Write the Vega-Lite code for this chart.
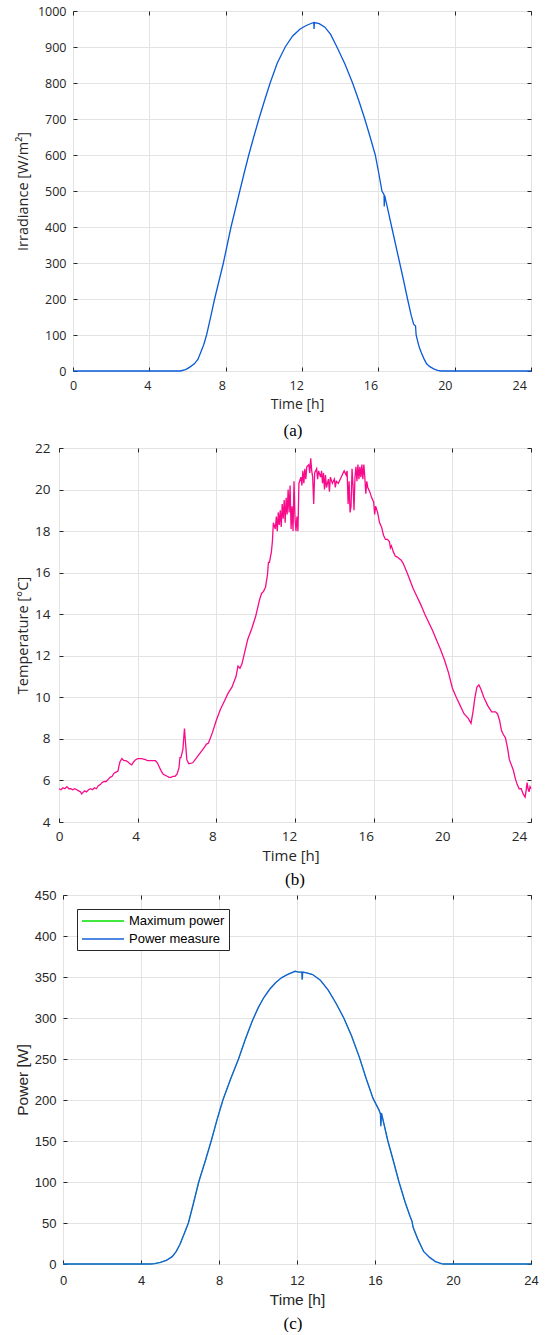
{
  "$schema": "https://vega.github.io/schema/vega-lite/v6.json",
  "background": "white",
  "padding": {"left": 14, "top": 4, "right": 5, "bottom": 0},
  "spacing": 0,
  "resolve": {"scale": {"color": "independent"}, "legend": {"color": "independent"}},
  "config": {
    "view": {"stroke": "#262626", "strokeWidth": 1},
    "axis": {"gridColor": "#e3e3e3", "gridWidth": 1, "domain": false, "tickColor": "#262626", "tickSize": -4, "labelColor": "#262626", "titleColor": "#262626", "titleFontWeight": "normal", "labelOverlap": false, "labelFlush": false}
  },
  "vconcat": [
    {"spacing": 0, "hconcat": [
    {"width": 1, "height": 1, "view": {"stroke": null}, "data": {"values": [{"s": 0}]}, "mark": {"type": "point", "opacity": 0, "size": 0, "strokeWidth": 0}, "encoding": {}},
    {
      "width": 458, "height": 360,
      "title": {"text": "(a)", "orient": "bottom", "font": "Liberation Serif", "fontSize": 17, "fontWeight": "normal", "color": "black", "frame": "group", "anchor": "middle", "dx": -9, "offset": 12},
      "data": {"values": [
        {"t":0,"v":0},{"t":1,"v":0},{"t":2,"v":0},{"t":3,"v":0},{"t":4,"v":0},{"t":5,"v":0},{"t":5.62,"v":0},{"t":5.9,"v":4},{"t":6.1,"v":10},{"t":6.36,"v":20},{"t":6.55,"v":33},{"t":6.68,"v":50},{"t":6.85,"v":73},{"t":7.0,"v":100},{"t":7.2,"v":147},{"t":7.42,"v":200},{"t":7.65,"v":250},{"t":7.88,"v":300},{"t":8.08,"v":350},{"t":8.28,"v":400},{"t":8.51,"v":450},{"t":8.74,"v":500},{"t":8.97,"v":550},{"t":9.21,"v":600},{"t":9.47,"v":650},{"t":9.74,"v":700},{"t":10.03,"v":750},{"t":10.33,"v":800},{"t":10.7,"v":855},{"t":11.12,"v":900},{"t":11.5,"v":930},{"t":11.9,"v":950},{"t":12.2,"v":959},{"t":12.5,"v":966},{"t":12.62,"v":968},{"t":12.63,"v":950},{"t":12.65,"v":968},{"t":12.9,"v":965},{"t":13.2,"v":955},{"t":13.5,"v":935},{"t":13.83,"v":900},{"t":14.25,"v":853},{"t":14.65,"v":800},{"t":14.97,"v":752},{"t":15.29,"v":700},{"t":15.57,"v":650},{"t":15.84,"v":600},{"t":16.02,"v":550},{"t":16.19,"v":500},{"t":16.3,"v":490},{"t":16.31,"v":457},{"t":16.33,"v":488},{"t":16.45,"v":460},{"t":16.7,"v":400},{"t":16.91,"v":350},{"t":17.12,"v":300},{"t":17.33,"v":250},{"t":17.53,"v":200},{"t":17.72,"v":155},{"t":17.85,"v":130},{"t":17.95,"v":125},{"t":17.98,"v":100},{"t":18.05,"v":85},{"t":18.15,"v":65},{"t":18.26,"v":50},{"t":18.4,"v":33},{"t":18.53,"v":20},{"t":18.7,"v":12},{"t":18.9,"v":6},{"t":19.1,"v":2},{"t":19.3,"v":0},{"t":20,"v":0},{"t":22,"v":0},{"t":24,"v":0}
      ]},
      "layer": [
        {
          "mark": {"type": "line", "color": "#0a5ad8", "strokeWidth": 1.3},
          "encoding": {
            "x": {"field": "t", "type": "quantitative", "scale": {"domain": [0, 24], "nice": false, "zero": false},
                  "axis": {"values": [0,4,8,12,16,20,24], "labelFont": "Open Sans", "labelFontSize": 12.5, "labelPadding": 12.6, "title": "Time [h]", "titleFont": "Open Sans", "titleFontSize": 14, "titlePadding": 5, "titleX": 224,
                           "labelOffset": {"expr": "-datum.value*0.49"}}},
            "y": {"field": "v", "type": "quantitative", "scale": {"domain": [0, 1000], "nice": false},
                  "axis": {"values": [0,100,200,300,400,500,600,700,800,900,1000], "format": "d", "labelFont": "Open Sans", "labelFontSize": 12.5, "labelPadding": 11, "minExtent": 34, "maxExtent": 34, "title": "Irradiance [W/m²]", "titleFont": "Open Sans", "titleFontSize": 14.5, "titlePadding": 8.5}}
          }
        },
        {
          "mark": {"type": "line", "opacity": 0},
          "encoding": {
            "x": {"field": "t", "type": "quantitative", "axis": {"orient": "top", "values": [0,4,8,12,16,20,24], "labels": false, "grid": false, "title": null, "minExtent": 0, "maxExtent": 0}},
            "y": {"field": "v", "type": "quantitative", "axis": {"orient": "right", "values": [0,100,200,300,400,500,600,700,800,900,1000], "labels": false, "grid": false, "title": null, "minExtent": 0, "maxExtent": 0}}
          }
        }
      ],
      "resolve": {"axis": {"x": "independent", "y": "independent"}}
    }]},
    {"spacing": 0, "hconcat": [
    {"width": 1, "height": 1, "view": {"stroke": null}, "data": {"values": [{"s": 0}]}, "mark": {"type": "point", "opacity": 0, "size": 0, "strokeWidth": 0}, "encoding": {}},
    {
      "width": 472, "height": 374,
      "title": {"text": "(b)", "orient": "bottom", "font": "Liberation Serif", "fontSize": 17, "fontWeight": "normal", "color": "black", "frame": "group", "anchor": "middle", "dx": 0, "offset": 8},
      "data": {"values": [
        {"t":0.0,"v":5.6},{"t":0.1,"v":5.55},{"t":0.2,"v":5.65},{"t":0.3,"v":5.6},{"t":0.4,"v":5.7},{"t":0.5,"v":5.6},{"t":0.6,"v":5.6},{"t":0.7,"v":5.55},{"t":0.8,"v":5.6},{"t":0.9,"v":5.55},{"t":1.0,"v":5.5},{"t":1.1,"v":5.45},{"t":1.15,"v":5.35},{"t":1.2,"v":5.4},{"t":1.3,"v":5.5},{"t":1.4,"v":5.45},{"t":1.5,"v":5.55},{"t":1.6,"v":5.6},{"t":1.7,"v":5.55},{"t":1.8,"v":5.65},{"t":1.9,"v":5.6},{"t":2.0,"v":5.75},{"t":2.1,"v":5.8},{"t":2.2,"v":5.9},{"t":2.3,"v":5.95},{"t":2.4,"v":5.95},{"t":2.5,"v":6.05},{"t":2.6,"v":6.15},{"t":2.7,"v":6.2},{"t":2.8,"v":6.35},{"t":2.9,"v":6.4},{"t":3.0,"v":6.45},{"t":3.05,"v":6.7},{"t":3.1,"v":6.9},{"t":3.2,"v":7.05},{"t":3.3,"v":6.95},{"t":3.4,"v":6.95},{"t":3.5,"v":6.9},{"t":3.6,"v":6.8},{"t":3.7,"v":6.75},{"t":3.8,"v":6.9},{"t":3.9,"v":7.0},{"t":4.0,"v":7.05},{"t":4.2,"v":7.05},{"t":4.4,"v":7.0},{"t":4.5,"v":6.95},{"t":4.7,"v":6.95},{"t":4.9,"v":6.95},{"t":5.0,"v":6.85},{"t":5.1,"v":6.65},{"t":5.2,"v":6.45},{"t":5.3,"v":6.3},{"t":5.5,"v":6.2},{"t":5.6,"v":6.15},{"t":5.7,"v":6.15},{"t":5.8,"v":6.2},{"t":5.9,"v":6.2},{"t":6.0,"v":6.3},{"t":6.1,"v":6.6},{"t":6.15,"v":7.1},{"t":6.2,"v":7.1},{"t":6.3,"v":7.5},{"t":6.38,"v":8.5},{"t":6.45,"v":7.6},{"t":6.5,"v":7.0},{"t":6.6,"v":6.8},{"t":6.8,"v":6.85},{"t":7.0,"v":7.1},{"t":7.2,"v":7.35},{"t":7.4,"v":7.6},{"t":7.5,"v":7.75},{"t":7.6,"v":7.8},{"t":7.8,"v":8.3},{"t":8.0,"v":8.9},{"t":8.2,"v":9.4},{"t":8.4,"v":9.8},{"t":8.6,"v":10.2},{"t":8.8,"v":10.5},{"t":9.0,"v":11.0},{"t":9.1,"v":11.5},{"t":9.2,"v":11.4},{"t":9.3,"v":11.6},{"t":9.5,"v":12.4},{"t":9.6,"v":12.8},{"t":9.8,"v":13.3},{"t":10.0,"v":13.9},{"t":10.2,"v":14.7},{"t":10.3,"v":15.0},{"t":10.4,"v":15.1},{"t":10.5,"v":15.3},{"t":10.6,"v":15.9},{"t":10.65,"v":16.5},{"t":10.7,"v":16.5},{"t":10.8,"v":17.0},{"t":10.85,"v":17.5},{"t":10.9,"v":18.4},{"t":11.0,"v":18.1},{"t":11.05,"v":18.7},{"t":11.1,"v":18.0},{"t":11.15,"v":18.9},{"t":11.2,"v":18.3},{"t":11.25,"v":19.0},{"t":11.3,"v":18.2},{"t":11.35,"v":19.3},{"t":11.4,"v":18.6},{"t":11.45,"v":19.5},{"t":11.5,"v":18.4},{"t":11.55,"v":19.6},{"t":11.6,"v":18.8},{"t":11.65,"v":20.0},{"t":11.7,"v":18.9},{"t":11.75,"v":20.2},{"t":11.8,"v":18.1},{"t":11.85,"v":19.2},{"t":11.9,"v":18.0},{"t":11.95,"v":20.4},{"t":12.0,"v":18.6},{"t":12.05,"v":18.0},{"t":12.1,"v":18.7},{"t":12.15,"v":18.0},{"t":12.2,"v":20.3},{"t":12.3,"v":20.6},{"t":12.35,"v":20.2},{"t":12.4,"v":20.9},{"t":12.45,"v":20.3},{"t":12.5,"v":21.0},{"t":12.55,"v":20.5},{"t":12.6,"v":21.1},{"t":12.7,"v":21.2},{"t":12.75,"v":20.8},{"t":12.8,"v":21.5},{"t":12.85,"v":20.9},{"t":12.9,"v":20.6},{"t":12.95,"v":19.3},{"t":13.0,"v":20.8},{"t":13.1,"v":21.0},{"t":13.15,"v":20.5},{"t":13.2,"v":20.9},{"t":13.3,"v":20.6},{"t":13.35,"v":20.9},{"t":13.4,"v":20.3},{"t":13.45,"v":20.8},{"t":13.5,"v":20.0},{"t":13.55,"v":20.7},{"t":13.6,"v":20.1},{"t":13.7,"v":20.5},{"t":13.75,"v":19.9},{"t":13.8,"v":20.6},{"t":13.9,"v":20.3},{"t":14.0,"v":20.5},{"t":14.05,"v":20.1},{"t":14.1,"v":20.4},{"t":14.2,"v":20.3},{"t":14.3,"v":20.5},{"t":14.4,"v":20.7},{"t":14.5,"v":20.9},{"t":14.6,"v":20.7},{"t":14.65,"v":20.9},{"t":14.7,"v":19.3},{"t":14.75,"v":20.4},{"t":14.8,"v":18.9},{"t":14.85,"v":19.2},{"t":14.9,"v":21.0},{"t":14.95,"v":20.2},{"t":15.0,"v":19.0},{"t":15.05,"v":20.6},{"t":15.1,"v":21.1},{"t":15.15,"v":20.4},{"t":15.2,"v":21.2},{"t":15.25,"v":20.5},{"t":15.3,"v":21.1},{"t":15.35,"v":20.6},{"t":15.4,"v":21.2},{"t":15.45,"v":20.5},{"t":15.5,"v":21.2},{"t":15.55,"v":20.6},{"t":15.6,"v":19.8},{"t":15.65,"v":20.4},{"t":15.7,"v":20.1},{"t":15.8,"v":19.9},{"t":15.9,"v":19.6},{"t":16.0,"v":19.4},{"t":16.05,"v":18.8},{"t":16.1,"v":19.2},{"t":16.2,"v":18.9},{"t":16.3,"v":18.4},{"t":16.4,"v":18.2},{"t":16.5,"v":17.8},{"t":16.6,"v":17.6},{"t":16.7,"v":17.6},{"t":16.8,"v":17.5},{"t":16.85,"v":17.2},{"t":16.9,"v":17.3},{"t":17.0,"v":17.0},{"t":17.1,"v":16.8},{"t":17.2,"v":16.75},{"t":17.4,"v":16.6},{"t":17.5,"v":16.45},{"t":17.7,"v":16.0},{"t":17.9,"v":15.5},{"t":18.0,"v":15.25},{"t":18.2,"v":14.85},{"t":18.4,"v":14.45},{"t":18.6,"v":14.0},{"t":18.8,"v":13.6},{"t":19.0,"v":13.2},{"t":19.2,"v":12.75},{"t":19.4,"v":12.3},{"t":19.6,"v":11.8},{"t":19.8,"v":11.2},{"t":20.0,"v":10.45},{"t":20.2,"v":10.0},{"t":20.4,"v":9.6},{"t":20.6,"v":9.2},{"t":20.8,"v":9.0},{"t":20.95,"v":8.75},{"t":21.05,"v":9.3},{"t":21.15,"v":10.0},{"t":21.25,"v":10.5},{"t":21.35,"v":10.6},{"t":21.45,"v":10.4},{"t":21.6,"v":10.0},{"t":21.8,"v":9.6},{"t":22.0,"v":9.3},{"t":22.2,"v":9.3},{"t":22.3,"v":9.2},{"t":22.4,"v":8.9},{"t":22.5,"v":8.4},{"t":22.6,"v":8.2},{"t":22.7,"v":8.05},{"t":22.8,"v":7.6},{"t":22.9,"v":7.0},{"t":23.0,"v":6.75},{"t":23.1,"v":6.5},{"t":23.2,"v":6.1},{"t":23.3,"v":5.8},{"t":23.4,"v":5.6},{"t":23.5,"v":5.6},{"t":23.6,"v":5.35},{"t":23.7,"v":5.2},{"t":23.75,"v":5.5},{"t":23.8,"v":5.9},{"t":23.85,"v":5.6},{"t":23.9,"v":5.45},{"t":23.95,"v":5.7},{"t":24.0,"v":5.6}
      ]},
      "layer": [
        {
          "mark": {"type": "line", "color": "#f80a8a", "strokeWidth": 1.3},
          "encoding": {
            "x": {"field": "t", "type": "quantitative", "scale": {"domain": [0, 24], "nice": false, "zero": false},
                  "axis": {"values": [0,4,8,12,16,20,24], "labelFont": "Open Sans", "labelFontSize": 13.5, "labelPadding": 11, "title": "Time [h]", "titleFont": "Open Sans", "titleFontSize": 15, "titlePadding": 6, "titleX": 231.6,
                           "labelOffset": {"expr": "-datum.value*0.5"}}},
            "y": {"field": "v", "type": "quantitative", "scale": {"domain": [4, 22], "nice": false, "zero": false},
                  "axis": {"values": [4,6,8,10,12,14,16,18,20,22], "labelFont": "Open Sans", "labelFontSize": 13.5, "labelPadding": 13, "minExtent": 25, "maxExtent": 25, "title": "Temperature [°C]", "titleFont": "Open Sans", "titleFontSize": 14.5, "titlePadding": 3.5}}
          }
        },
        {
          "mark": {"type": "line", "opacity": 0},
          "encoding": {
            "x": {"field": "t", "type": "quantitative", "axis": {"orient": "top", "values": [0,4,8,12,16,20,24], "labels": false, "grid": false, "title": null, "minExtent": 0, "maxExtent": 0}},
            "y": {"field": "v", "type": "quantitative", "axis": {"orient": "right", "values": [4,6,8,10,12,14,16,18,20,22], "labels": false, "grid": false, "title": null, "minExtent": 0, "maxExtent": 0}}
          }
        }
      ],
      "resolve": {"axis": {"x": "independent", "y": "independent"}}
    }]},
    {"spacing": 0, "hconcat": [
    {"width": 1, "height": 1, "view": {"stroke": null}, "data": {"values": [{"s": 0}]}, "mark": {"type": "point", "opacity": 0, "size": 0, "strokeWidth": 0}, "encoding": {}},
    {
      "width": 468, "height": 369,
      "title": {"text": "(c)", "orient": "bottom", "font": "Liberation Serif", "fontSize": 17, "fontWeight": "normal", "color": "black", "frame": "group", "anchor": "middle", "dx": -4, "offset": 8},
      "data": {"values": [
        {"t":0,"maxp":0,"meas":0},{"t":1,"maxp":0,"meas":0},{"t":2,"maxp":0,"meas":0},{"t":3,"maxp":0,"meas":0},{"t":4,"maxp":0,"meas":0},{"t":4.5,"maxp":0,"meas":0},{"t":4.7,"maxp":0.5,"meas":0.5},{"t":5.0,"maxp":2,"meas":2},{"t":5.3,"maxp":4.5,"meas":4.5},{"t":5.6,"maxp":9,"meas":9},{"t":5.8,"maxp":15,"meas":15},{"t":6.0,"maxp":24,"meas":24},{"t":6.2,"maxp":36,"meas":36},{"t":6.43,"maxp":50,"meas":50},{"t":6.7,"maxp":75,"meas":75},{"t":6.96,"maxp":100,"meas":100},{"t":7.3,"maxp":126,"meas":126},{"t":7.6,"maxp":150,"meas":150},{"t":7.9,"maxp":176,"meas":176},{"t":8.2,"maxp":200,"meas":200},{"t":8.6,"maxp":226,"meas":226},{"t":9.0,"maxp":250,"meas":250},{"t":9.35,"maxp":274,"meas":274},{"t":9.7,"maxp":296,"meas":296},{"t":10.0,"maxp":312,"meas":312},{"t":10.3,"maxp":325,"meas":325},{"t":10.6,"maxp":335,"meas":335},{"t":10.9,"maxp":343,"meas":343},{"t":11.2,"maxp":349,"meas":349},{"t":11.5,"maxp":353,"meas":353},{"t":11.9,"maxp":357,"meas":357},{"t":12.1,"maxp":356,"meas":356},{"t":12.25,"maxp":356,"meas":356},{"t":12.27,"maxp":347,"meas":347},{"t":12.29,"maxp":356,"meas":356},{"t":12.5,"maxp":355,"meas":355},{"t":12.8,"maxp":353,"meas":353},{"t":13.2,"maxp":346,"meas":346},{"t":13.6,"maxp":334,"meas":334},{"t":14.0,"maxp":318,"meas":318},{"t":14.4,"maxp":300,"meas":300},{"t":14.8,"maxp":278,"meas":278},{"t":15.2,"maxp":252,"meas":252},{"t":15.55,"maxp":226,"meas":226},{"t":15.9,"maxp":202,"meas":202},{"t":16.2,"maxp":188,"meas":188},{"t":16.28,"maxp":183,"meas":183},{"t":16.3,"maxp":172,"meas":168},{"t":16.33,"maxp":184,"meas":184},{"t":16.66,"maxp":150,"meas":150},{"t":16.95,"maxp":125,"meas":125},{"t":17.23,"maxp":100,"meas":100},{"t":17.55,"maxp":75,"meas":75},{"t":17.8,"maxp":58,"meas":58},{"t":17.9,"maxp":52,"meas":52},{"t":17.95,"maxp":45,"meas":45},{"t":18.2,"maxp":30,"meas":30},{"t":18.5,"maxp":15,"meas":15},{"t":18.8,"maxp":8,"meas":8},{"t":19.1,"maxp":3,"meas":3},{"t":19.4,"maxp":0.5,"meas":0.5},{"t":19.5,"maxp":0,"meas":0},{"t":20,"maxp":0,"meas":0},{"t":22,"maxp":0,"meas":0},{"t":24,"maxp":0,"meas":0}
      ]},
      "layer": [
        {
          "mark": {"type": "line", "strokeWidth": 0.8},
          "encoding": {
            "x": {"field": "t", "type": "quantitative", "scale": {"domain": [0, 24], "nice": false, "zero": false},
                  "axis": {"values": [0,4,8,12,16,20,24], "labelFont": "Liberation Sans", "labelFontSize": 13, "labelPadding": 14.4, "title": "Time [h]", "titleFont": "Liberation Sans", "titleFontSize": 15.5, "titlePadding": 4.6}},
            "y": {"field": "maxp", "type": "quantitative", "scale": {"domain": [0, 450], "nice": false},
                  "axis": {"values": [0,50,100,150,200,250,300,350,400,450], "labelFont": "Liberation Sans", "labelFontSize": 13, "labelPadding": 11, "minExtent": 29, "maxExtent": 29, "title": "Power [W]", "titleFont": "Liberation Sans", "titleFontSize": 15.5, "titlePadding": 3.4}},
            "color": {"datum": "Maximum power", "type": "nominal",
                      "scale": {"domain": ["Maximum power", "Power measure"], "range": ["#00e000", "#1560d8"]},
                      "legend": {"title": null, "orient": "top-left", "offset": 14, "padding": 4, "strokeColor": "#262626", "fillColor": "white", "symbolType": "M-1,0H5", "symbolSize": 196, "symbolStrokeWidth": 1.5, "labelOffset": 32, "labelFont": "Liberation Sans", "labelFontSize": 13, "labelColor": "black", "rowPadding": 3, "cornerRadius": 0}}
          }
        },
        {
          "mark": {"type": "line", "strokeWidth": 1.4},
          "encoding": {
            "x": {"field": "t", "type": "quantitative", "axis": {"orient": "top", "values": [0,4,8,12,16,20,24], "labels": false, "grid": false, "title": null, "minExtent": 0, "maxExtent": 0}},
            "y": {"field": "meas", "type": "quantitative", "axis": {"orient": "right", "values": [0,50,100,150,200,250,300,350,400,450], "labels": false, "grid": false, "title": null, "minExtent": 0, "maxExtent": 0}},
            "color": {"datum": "Power measure", "type": "nominal"}
          }
        }
      ],
      "resolve": {"axis": {"x": "independent", "y": "independent"}}
    }], "resolve": {"scale": {"color": "independent"}, "legend": {"color": "independent"}}}
  ]
}
